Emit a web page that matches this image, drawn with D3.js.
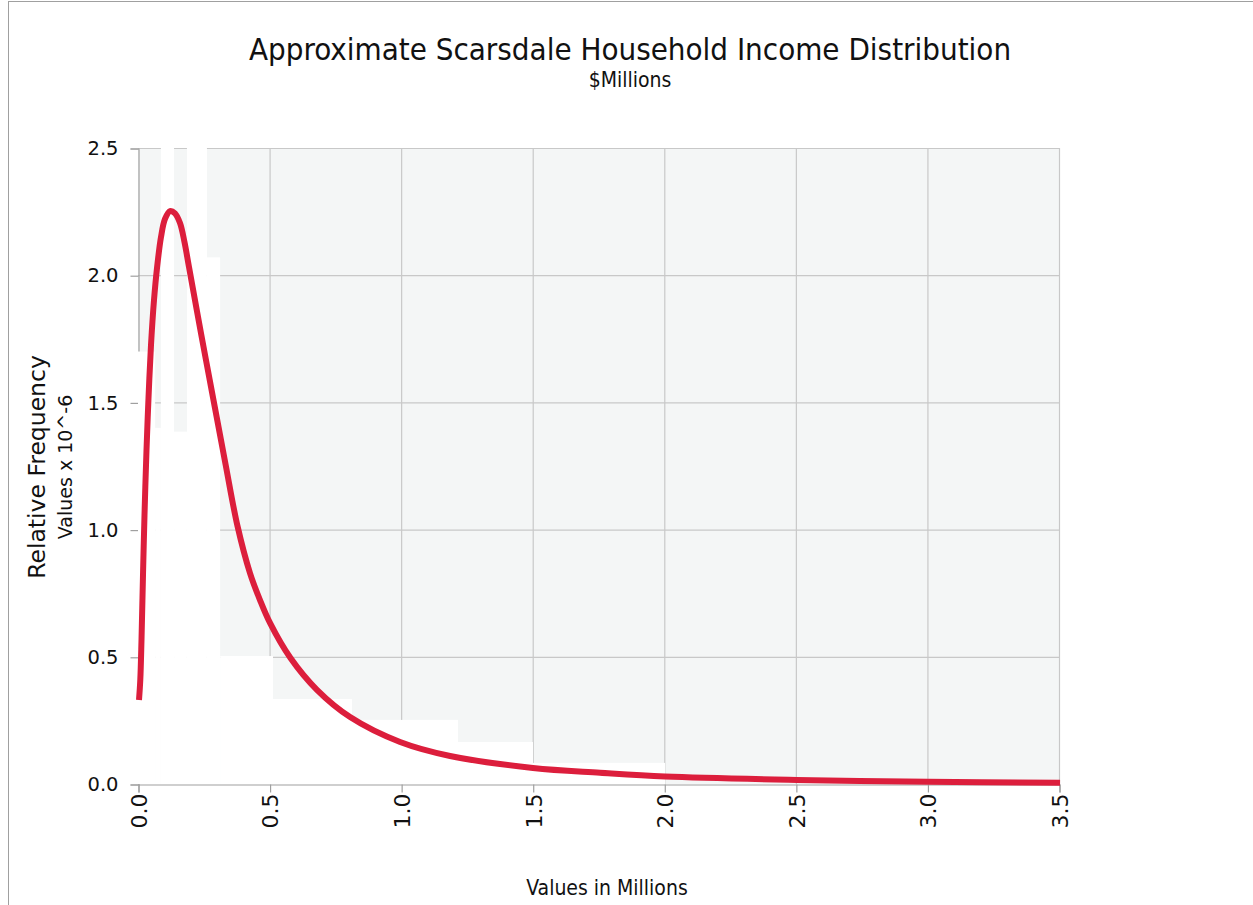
<!DOCTYPE html>
<html>
<head>
<meta charset="utf-8">
<script src="https://cdn.jsdelivr.net/npm/d3@7"></script>
<style>
  html, body { margin: 0; padding: 0; background: #fff; }
  svg { display: block; }
</style>
</head>
<body>
<svg id="chart" width="1253" height="905"></svg>
<script>
// ---- data ----
const title = "Approximate Scarsdale Household Income Distribution";
const subtitle = "$Millions";
const yTitle = "Relative Frequency";
const ySubTitle = "Values x 10^-6";
const xTitle = "Values in Millions";

const xTicks = [0, 0.5, 1.0, 1.5, 2.0, 2.5, 3.0, 3.5];
const yTicks = [0, 0.5, 1.0, 1.5, 2.0, 2.5];

// histogram bins (edges in $M, heights in 10^-6)
const binEdges = [0, 0.065, 0.087, 0.137, 0.186, 0.262, 0.312, 0.513, 0.813, 1.216, 1.501, 2.003];
const binValues = [1.70, 1.40, 2.90, 1.385, 2.80, 2.07, 0.503, 0.334, 0.252, 0.165, 0.083];

// density curve points
const curveX = [0.0038, 0.0087, 0.0133, 0.0190, 0.0247, 0.0323, 0.0399, 0.0494, 0.0608, 0.0722,
                0.0874, 0.1026, 0.1216, 0.1406, 0.1596, 0.1767, 0.1938, 0.2394, 0.2869, 0.3325,
                0.3781, 0.4256, 0.4636, 0.5016, 0.5795, 0.680, 0.806, 0.996, 1.186, 1.501,
                1.756, 2.003, 2.504, 3.002, 3.504];
const curveY = [0.330, 0.409, 0.566, 0.822, 1.057, 1.313, 1.517, 1.725, 1.902, 2.028,
                2.150, 2.221, 2.252, 2.243, 2.205, 2.130, 2.032, 1.772, 1.509, 1.258,
                1.014, 0.829, 0.723, 0.633, 0.495, 0.370, 0.263, 0.165, 0.110, 0.063,
                0.044, 0.029, 0.016, 0.009, 0.005];

// ---- layout ----
const svg = d3.select("#chart");
const W = 1253, H = 905;
const plot = { left: 138, right: 1059, top: 148, bottom: 784 };

const x = d3.scaleLinear().domain([0, 3.5]).range([plot.left, plot.right]);
const y = d3.scaleLinear().domain([0, 2.5]).range([plot.bottom, plot.top]);

// outer frame (top and left edges)
svg.append("line").attr("x1", 8).attr("x2", W).attr("y1", 1.5).attr("y2", 1.5)
  .attr("stroke", "#a0a0a0").attr("stroke-width", 1);
svg.append("line").attr("x1", 8.5).attr("x2", 8.5).attr("y1", 1).attr("y2", H)
  .attr("stroke", "#a0a0a0").attr("stroke-width", 1);

// plot background
svg.append("rect")
  .attr("x", plot.left).attr("y", plot.top)
  .attr("width", plot.right - plot.left).attr("height", plot.bottom - plot.top)
  .attr("fill", "#f4f6f6");

svg.append("clipPath").attr("id", "plotClip")
  .append("rect")
  .attr("x", plot.left).attr("y", plot.top)
  .attr("width", plot.right - plot.left).attr("height", plot.bottom - plot.top);

// gridlines
const grid = svg.append("g");
grid.selectAll(".vg").data(xTicks.filter(d => d > 0)).enter().append("line")
  .attr("x1", d => x(d) + 0.5).attr("x2", d => x(d) + 0.5)
  .attr("y1", plot.top).attr("y2", plot.bottom)
  .attr("stroke", "#c8c8c8").attr("stroke-width", 1.2);
grid.selectAll(".hg").data(yTicks.filter(d => d > 0)).enter().append("line")
  .attr("x1", plot.left).attr("x2", plot.right)
  .attr("y1", d => y(d) + 0.5).attr("y2", d => y(d) + 0.5)
  .attr("stroke", "#c8c8c8").attr("stroke-width", 1.2);

// y axis
const yAxis = d3.axisLeft(y).tickValues(yTicks).tickFormat(d3.format(".1f")).tickSize(8).tickPadding(12);
const yg = svg.append("g").attr("transform", `translate(${plot.left + 0.5},0.5)`).call(yAxis);
yg.select(".domain").attr("stroke", "#a0a0a0").attr("stroke-width", 1.2);
yg.selectAll(".tick line").attr("stroke", "#a0a0a0").attr("stroke-width", 1.2);
yg.selectAll(".tick text").attr("font-family", "'DejaVu Sans', Verdana, sans-serif")
  .attr("font-size", 19.5).attr("fill", "#111");

// histogram bars (white)
const bins = binValues.map((v, i) => ({ x0: binEdges[i], x1: binEdges[i + 1], v }));
svg.append("g").attr("clip-path", "url(#plotClip)")
  .selectAll("rect").data(bins).enter().append("rect")
  .attr("x", d => x(d.x0))
  .attr("width", d => x(d.x1) - x(d.x0))
  .attr("y", d => y(d.v))
  .attr("height", d => y(0) - y(d.v))
  .attr("fill", "#ffffff");

// x axis
const xAxis = d3.axisBottom(x).tickValues(xTicks).tickFormat(d3.format(".1f")).tickSize(8).tickPadding(10);
const xg = svg.append("g").attr("transform", `translate(0.5,${plot.bottom + 0.5})`).call(xAxis);
xg.select(".domain").attr("stroke", "#a0a0a0").attr("stroke-width", 1.2);
xg.selectAll(".tick line").attr("stroke", "#a0a0a0").attr("stroke-width", 1.2);
xg.selectAll(".tick text")
  .attr("font-family", "'DejaVu Sans', Verdana, sans-serif")
  .attr("font-size", 22).attr("fill", "#111")
  .attr("text-anchor", "end")
  .attr("transform", "rotate(-90)")
  .attr("x", -9).attr("y", 0).attr("dy", "0.36em");

// density curve
const pts = curveX.map((v, i) => [v, curveY[i]]);
const line = d3.line().x(d => x(d[0])).y(d => y(d[1])).curve(d3.curveCatmullRom.alpha(0.5));
svg.append("path").datum(pts)
  .attr("d", line)
  .attr("fill", "none")
  .attr("stroke", "#dc1e3c")
  .attr("stroke-width", 6)
  .attr("stroke-linejoin", "round");

// titles
svg.append("text").attr("x", 630).attr("y", 60).attr("text-anchor", "middle")
  .attr("font-family", "'DejaVu Sans Condensed', 'DejaVu Sans', sans-serif")
  .attr("font-size", 31).attr("fill", "#111").text(title);
svg.append("text").attr("x", 630).attr("y", 87).attr("text-anchor", "middle")
  .attr("font-family", "'DejaVu Sans Condensed', 'DejaVu Sans', sans-serif")
  .attr("font-size", 21).attr("fill", "#111").text(subtitle);

svg.append("text")
  .attr("transform", `translate(45,467) rotate(-90)`)
  .attr("text-anchor", "middle")
  .attr("font-family", "'DejaVu Sans', Verdana, sans-serif")
  .attr("font-size", 23.5).attr("fill", "#111").text(yTitle);
svg.append("text")
  .attr("transform", `translate(72,467) rotate(-90)`)
  .attr("text-anchor", "middle")
  .attr("font-family", "'DejaVu Sans', Verdana, sans-serif")
  .attr("font-size", 19).attr("fill", "#111").text(ySubTitle);

svg.append("text").attr("x", 607).attr("y", 895).attr("text-anchor", "middle")
  .attr("font-family", "'DejaVu Sans Condensed', 'DejaVu Sans', sans-serif")
  .attr("font-size", 21).attr("fill", "#111").text(xTitle);
</script>
</body>
</html>
